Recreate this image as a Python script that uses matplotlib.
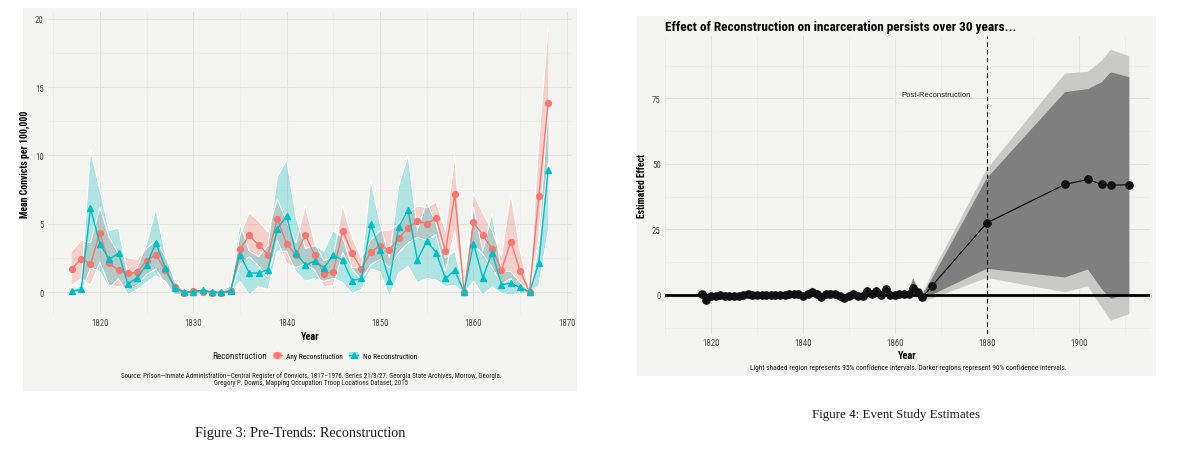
import matplotlib
matplotlib.use("Agg")
import matplotlib.pyplot as plt
from matplotlib import font_manager as fm
from matplotlib.patches import Rectangle, Patch
from matplotlib.lines import Line2D
from matplotlib.legend_handler import HandlerTuple

# ---------------- data: Figure 3 (pre-trends) ----------------
years3 = list(range(1817, 1869))
any_mean = [1.7, 2.45, 2.05, 4.35, 2.1, 1.6, 1.4, 1.45, 2.3, 2.75, 1.6, 0.4, -0.05, 0.1, 0.0, -0.05,
            -0.05, 0.05, 3.15, 4.15, 3.45, 2.75, 5.35, 3.55, 2.7, 4.2, 2.7, 1.35, 1.5, 4.5, 2.85, 1.7,
            2.95, 3.4, 3.1, 3.95, 4.7, 5.2, 5.0, 5.4, 3.0, 7.15, 0.0, 5.1, 4.2, 3.15, 1.6, 3.7,
            1.55, 0.0, 7.0, 13.85]
any_lo = [0.5, 1.0, 0.5, 2.2, 0.5, 0.4, 0.3, 0.5, 1.3, 1.7, 0.6, -0.2, -0.15, -0.1, -0.15, -0.15,
          -0.15, -0.1, 2.0, 2.6, 1.9, 1.1, 3.8, 2.1, 1.8, 2.1, 1.6, 0.4, 0.5, 2.9, 1.7, 0.9,
          2.0, 2.4, 1.8, 2.9, 3.6, 4.0, 3.8, 4.2, 1.5, 4.5, -0.1, 3.5, 2.8, 1.8, 0.6, 1.0,
          -0.1, -0.3, 3.5, 9.5]
any_hi = [3.0, 3.8, 3.6, 6.2, 4.0, 2.8, 2.5, 2.4, 3.2, 3.8, 2.6, 1.0, 0.1, 0.25, 0.15, 0.1,
          0.1, 0.2, 4.2, 5.8, 5.2, 4.4, 6.8, 5.2, 3.6, 6.3, 3.6, 2.3, 2.6, 6.3, 4.0, 2.5,
          3.8, 4.5, 4.5, 5.0, 5.8, 6.3, 6.2, 6.6, 4.5, 10.0, 0.1, 7.2, 5.8, 4.5, 2.6, 7.2,
          3.0, 0.1, 11.0, 19.3]
no_mean = [0.05, 0.2, 6.15, 3.55, 2.4, 2.85, 0.6, 1.05, 2.0, 3.6, 1.8, 0.3, 0.0, 0.0, 0.15, 0.0,
           0.0, 0.1, 2.75, 1.4, 1.4, 1.65, 4.65, 5.55, 2.85, 2.0, 2.25, 1.8, 2.7, 2.35, 0.85, 1.0,
           4.95, 3.1, 0.85, 4.8, 6.0, 2.35, 3.75, 2.9, 1.0, 1.6, 0.0, 3.55, 1.05, 2.9, 0.55, 0.65,
           0.35, 0.0, 2.15, 8.95]
no_lo = [-0.05, -0.1, 1.8, 1.5, 0.3, 1.0, -0.2, 0.2, 0.7, 1.2, 0.8, -0.2, -0.1, -0.1, -0.05, -0.1,
         -0.1, -0.1, 0.8, -0.2, 0.4, 0.2, 3.0, 3.0, 1.5, 0.8, 1.0, 0.8, 1.0, 0.7, -0.1, 0.2,
         1.7, 1.5, -0.3, 1.4, 1.9, 0.7, 1.0, 0.9, 0.4, 0.5, -0.1, 0.8, -0.2, 0.4, -0.1, -0.2,
         -0.1, -0.05, 0.5, 4.5]
no_hi = [0.15, 0.5, 10.4, 7.5, 4.5, 4.7, 1.2, 1.8, 3.5, 6.1, 2.8, 0.8, 0.1, 0.1, 0.3, 0.1,
         0.1, 0.5, 5.0, 3.0, 2.6, 3.4, 8.4, 9.7, 5.5, 3.2, 3.4, 3.0, 4.5, 4.0, 1.8, 1.8,
         8.2, 5.0, 2.5, 7.8, 10.0, 4.5, 6.6, 5.0, 2.5, 3.0, 0.1, 6.2, 3.0, 5.8, 1.5, 1.5,
         0.7, 0.05, 4.0, 13.5]
yticks3 = [0, 5, 10, 15, 20]
xticks3 = [1820, 1830, 1840, 1850, 1860, 1870]

# ---------------- data: Figure 4 (event study) ----------------
years4 = list(range(1818, 1867)) + [1868, 1880, 1897, 1902, 1905, 1907, 1911]
est4 = [0.2, -2.0, -0.4, -0.3, 0.0, -0.3, -0.5, -0.4, -0.3, -0.2, 0.2, -0.2, -0.1, -0.2, -0.1,
        -0.2, -0.1, 0.0, 0.1, 0.5, 0.3, 0.2, -0.3, 0.3, 1.2, 0.5, -0.6, 0.2, 0.4, 0.2, -0.4,
        -1.2, -0.3, 0.5, -0.5, -0.3, 1.7, 0.3, 1.6, -0.2, 2.1, 0.0, 0.0, 0.3, 0.2, 0.2, 2.8,
        1.0, -0.8,
        3.3, 27.5, 42.2, 44.1, 42.2, 41.9, 42.1]
lo95 = [-1.0, -3.2, -1.4, -1.3, -1.0, -1.3, -1.5, -1.4, -1.3, -1.2, -0.8, -1.2, -1.1, -1.2, -1.1,
        -1.2, -1.1, -1.0, -1.0, -0.7, -0.9, -1.1, -1.8, -1.2, -0.5, -1.1, -2.2, -1.3, -1.2, -1.3, -1.9,
        -2.6, -1.7, -0.9, -1.8, -1.6, 0.3, -1.0, 0.3, -1.4, 0.7, -1.2, -1.2, -0.9, -1.0, -1.0, 0.0,
        -0.5, -2.0,
        -1.5, 6.5, 1.0, 3.3, -4.7, -9.8, -7.3]
hi95 = [1.4, -0.8, 0.6, 0.7, 1.0, 0.7, 0.5, 0.6, 0.7, 0.8, 1.2, 0.8, 0.9, 0.8, 0.9,
        0.8, 0.9, 1.0, 1.2, 1.7, 1.5, 1.5, 1.2, 1.8, 2.9, 2.1, 1.0, 1.7, 2.0, 1.7, 1.1,
        0.2, 1.1, 1.9, 0.8, 1.0, 3.1, 1.6, 2.9, 1.0, 3.5, 1.2, 1.2, 1.5, 1.4, 1.4, 6.6,
        2.5, 0.4,
        8.0, 48.0, 84.5, 85.2, 89.4, 93.6, 91.1]
lo90 = [-0.7, -2.9, -1.1, -1.0, -0.7, -1.0, -1.2, -1.1, -1.0, -0.9, -0.5, -0.9, -0.8, -0.9, -0.8,
        -0.9, -0.8, -0.7, -0.7, -0.4, -0.6, -0.8, -1.4, -0.8, -0.1, -0.7, -1.8, -0.9, -0.8, -0.9, -1.5,
        -2.2, -1.3, -0.5, -1.4, -1.2, 0.6, -0.7, 0.6, -1.1, 1.0, -0.9, -0.9, -0.6, -0.7, -0.7, 0.4,
        -0.2, -1.7,
        0.0, 10.0, 6.7, 9.7, 2.3, -1.5, 0.4]
hi90 = [1.1, -1.1, 0.3, 0.4, 0.7, 0.4, 0.2, 0.3, 0.4, 0.5, 0.9, 0.5, 0.6, 0.5, 0.6,
        0.5, 0.6, 0.7, 0.9, 1.4, 1.2, 1.2, 0.8, 1.4, 2.5, 1.7, 0.6, 1.3, 1.6, 1.3, 0.7,
        -0.2, 0.7, 1.5, 0.4, 0.6, 2.8, 1.3, 2.6, 0.7, 3.2, 0.9, 0.9, 1.2, 1.1, 1.1, 6.2,
        2.2, 0.1,
        6.0, 44.5, 77.4, 78.6, 81.2, 85.0, 83.1]
yticks4 = [0, 25, 50, 75]
xticks4 = [1820, 1840, 1860, 1880, 1900]

# ---------------- fonts ----------------
names = {f.name for f in fm.fontManager.ttflist}
NARROW = 'Roboto'
for cand in ['Roboto Condensed', 'Liberation Sans Narrow', 'Arial Narrow']:
    if cand in names:
        NARROW = cand
        break
SANS = 'Liberation Sans'
SERIF = 'Liberation Serif'

RED = '#F8766D'
TEAL = '#00BFC4'
BG = '#F3F3EF'
GRID_MAJ = '#E3E3DE'
GRID_MIN = '#EAEAE5'
TICKC = '#4D4D4D'

W, H = 1200, 460
fig = plt.figure(figsize=(12, 4.6), dpi=100)
fig.patch.set_facecolor('white')
renderer = fig.canvas.get_renderer()


def fx(x):
    return x / W


def fy(y):
    return 1 - y / H


def ax_rect(x0, y0, x1, y1):
    return [fx(x0), fy(y1), (x1 - x0) / W, (y1 - y0) / H]


def fit_text(x, y, s, width_px, max_size, **kw):
    """Place figure text, shrinking the font so it spans about width_px pixels."""
    t = fig.text(fx(x), fy(y), s, fontsize=10, **kw)
    w = t.get_window_extent(renderer=renderer).width
    t.set_fontsize(min(max_size, 10 * width_px / w))
    return t


# panel backgrounds (behind the axes)
fig.patches.append(Rectangle((fx(23), fy(392)), (577 - 23) / W, (392 - 9) / H,
                             transform=fig.transFigure, facecolor=BG, edgecolor='none', zorder=-5))
fig.patches.append(Rectangle((fx(637), fy(377)), (1156 - 637) / W, (377 - 17) / H,
                             transform=fig.transFigure, facecolor=BG, edgecolor='none', zorder=-5))


def style_axes(ax):
    ax.set_facecolor('none')
    for s in ax.spines.values():
        s.set_visible(False)
    ax.tick_params(length=0, colors=TICKC, labelsize=6.4, pad=3)
    for lab in ax.get_xticklabels() + ax.get_yticklabels():
        lab.set_family(NARROW)
    ax.grid(True, which='major', color=GRID_MAJ, lw=0.8)
    ax.grid(True, which='minor', color=GRID_MIN, lw=0.5)
    ax.set_axisbelow(True)


# ---------------- Figure 3 ----------------
ax1 = fig.add_axes(ax_rect(48, 13, 572, 315))
ax1.set_xlim(1814.45, 1870.55)
ax1.set_ylim(-1.6, 20.5)
ax1.set_xticks(xticks3)
ax1.set_yticks(yticks3)
ax1.set_xticks([1815, 1825, 1835, 1845, 1855, 1865], minor=True)
ax1.set_yticks([2.5, 7.5, 12.5, 17.5], minor=True)
ax1.tick_params(which='minor', length=0)
style_axes(ax1)

ax1.fill_between(years3, any_lo, any_hi, facecolor=RED, alpha=0.28, edgecolor='none', zorder=2)
ax1.fill_between(years3, no_lo, no_hi, facecolor=TEAL, alpha=0.28, edgecolor='none', zorder=2)
for lo, hi in ((any_lo, any_hi), (no_lo, no_hi)):
    ax1.plot(years3, hi, color='white', lw=0.7, zorder=2.5)
    ax1.plot(years3, lo, color='white', lw=0.7, zorder=2.5)
ax1.plot(years3, any_mean, color=RED, lw=1.0, marker='o', ms=4.2, mec=RED, mfc=RED, zorder=3)
ax1.plot(years3, no_mean, color=TEAL, lw=1.0, marker='^', ms=4.6, mec=TEAL, mfc=TEAL, zorder=3)

ax1.set_xlabel('Year', fontsize=7.5, fontweight='bold', family=NARROW, labelpad=3)
ax1.set_ylabel('Mean Convicts per 100,000', fontsize=7, fontweight='bold', family=NARROW, labelpad=4)

# legend
h_any = (Patch(facecolor=RED, alpha=0.3, edgecolor='none'),
         Line2D([], [], color=RED, lw=1.0, marker='o', ms=4.2))
h_no = (Patch(facecolor=TEAL, alpha=0.3, edgecolor='none'),
        Line2D([], [], color=TEAL, lw=1.0, marker='^', ms=4.6))
fig.legend([h_any, h_no], ['Any Reconstruction', 'No Reconstruction'],
           handler_map={tuple: HandlerTuple(ndivide=1)}, ncol=2, frameon=False,
           loc='center left', bbox_to_anchor=(fx(269), fy(357)),
           prop={'family': NARROW, 'size': 5.3}, handlelength=1.2, handleheight=1.0,
           handletextpad=0.6, columnspacing=0.9, borderpad=0)
fit_text(267, 357, 'Reconstruction', 54, 8, ha='right', va='center', family=NARROW,
         color='#222222')

fit_text(311, 376, 'Source: Prison\u2014Inmate Administration\u2014Central Register of Convicts, '
         '1817\u20131976. Series 21/3/27. Georgia State Archives, Morrow, Georgia.', 372, 5.5,
         ha='center', va='center', family=NARROW, color='#222222')
fit_text(311, 384, 'Gregory P. Downs, Mapping Occupation Troop Locations Dataset, 2015', 190, 5.5,
         ha='center', va='center', family=NARROW, color='#222222')
fit_text(300, 434, 'Figure 3: Pre-Trends: Reconstruction', 210, 11,
         ha='center', va='center', family=SERIF, color='#1a1a1a')

# ---------------- Figure 4 ----------------
ax2 = fig.add_axes(ax_rect(665, 37, 1150, 335))
ax2.set_xlim(1813.3, 1915.5)
ax2.set_ylim(-14.9, 98.85)
ax2.set_xticks(xticks4)
ax2.set_yticks(yticks4)
ax2.set_xticks([1810, 1830, 1850, 1870, 1890, 1910], minor=True)
ax2.set_yticks([-12.5, 12.5, 37.5, 62.5, 87.5], minor=True)
ax2.tick_params(which='minor', length=0)
style_axes(ax2)

ax2.fill_between(years4, lo95, hi95, facecolor='#C9C9C5', edgecolor='none', zorder=2)
ax2.fill_between(years4, lo90, hi90, facecolor='#7F7F7F', edgecolor='none', zorder=2.2)
ax2.axvline(1880, color='black', lw=0.8, ls=(0, (4, 3)), zorder=2.5)
ax2.plot(years4, est4, color='black', lw=0.8, zorder=3)
ax2.plot(years4, est4, ls='none', marker='o', ms=5.2, color='#111111', zorder=3.2)
ax2.axhline(0, color='black', lw=2.0, zorder=3.1)
ax2.text(1869, 76.7, 'Post-Reconstruction', ha='center', va='center', fontsize=5.5,
         family=SANS, color='#222222')

ax2.set_xlabel('Year', fontsize=7.5, fontweight='bold', family=NARROW, labelpad=2)
ax2.set_ylabel('Estimated Effect', fontsize=7, fontweight='bold', family=NARROW, labelpad=4)

fit_text(665, 28, 'Effect of Reconstruction on incarceration persists over 30 years...', 352, 10.5,
         ha='left', va='center', fontweight='bold', family=NARROW, color='black')
fit_text(908, 368, 'Light shaded region represents 95% confidence intervals. '
         'Darker regions represent 90% confidence intervals.', 311, 5.5,
         ha='center', va='center', family=NARROW, color='#222222')
fit_text(896, 415, 'Figure 4: Event Study Estimates', 168, 11,
         ha='center', va='center', family=SERIF, color='#1a1a1a')

fig.savefig('out.png', dpi=100, facecolor='white')
